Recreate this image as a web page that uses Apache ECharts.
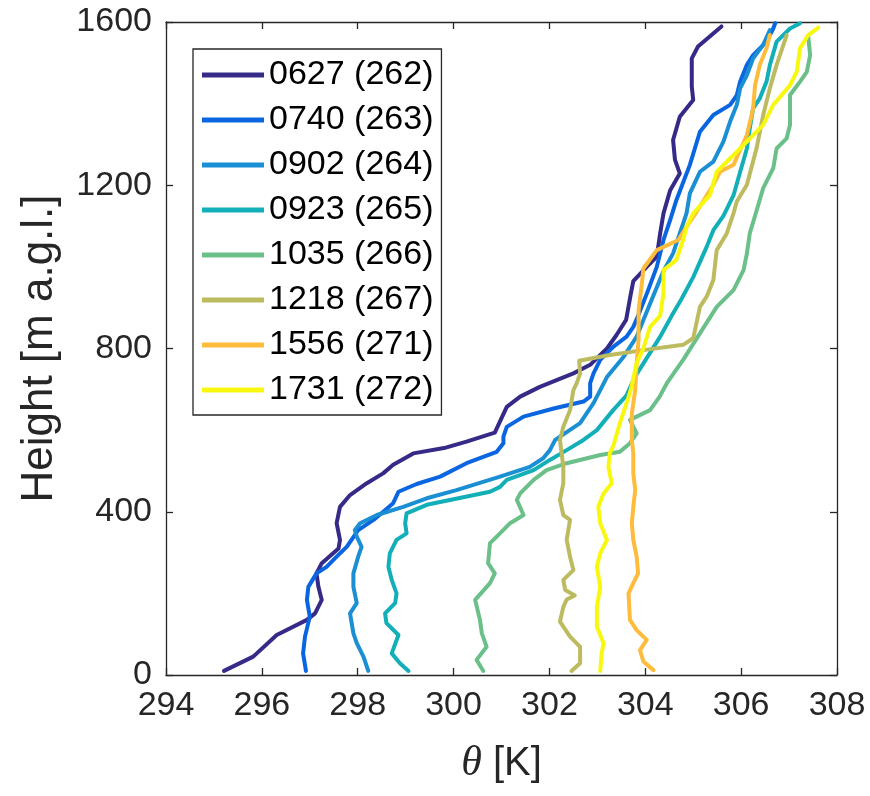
<!DOCTYPE html>
<html>
<head>
<meta charset="utf-8">
<script src="https://cdn.jsdelivr.net/npm/echarts@6/dist/echarts.min.js"></script>
<style>
  html, body { margin: 0; padding: 0; background: #fff; }
  #chart-container { width: 870px; height: 796px; }
</style>
</head>
<body>
<div id="chart-container"></div>
<script>
// profile names and line colours
const names = ['0627 (262)', '0740 (263)', '0902 (264)', '0923 (265)', '1035 (266)', '1218 (267)', '1556 (271)', '1731 (272)'];
const colors = ['#352a87', '#0a66e0', '#1a8fd3', '#12afb9', '#6bbf88', '#bdbb5f', '#fdbc3c', '#f8f80f'];

const xTicks = [294, 308, 2];
const yTicks = [0, 1600, 400];

// [theta K, height m]
const p0627 = [[295.21,10],[295.82,45],[296.31,98],[296.94,135],[297.11,151],[297.25,184],[297.18,216],[297.14,249],[297.25,274],[297.60,310],[297.63,331],[297.56,372],[297.63,412],[297.84,441],[298.19,470],[298.53,494],[298.74,515],[299.16,543],[299.8,556],[300.27,572],[300.86,594],[301.11,657],[301.39,682],[301.80,706],[302.50,739],[302.85,760],[303.20,800],[303.40,833],[303.60,870],[303.70,935],[303.75,965],[304.03,1000],[304.24,1025],[304.31,1082],[304.38,1131],[304.52,1188],[304.72,1229],[304.62,1262],[304.58,1311],[304.72,1368],[305.0,1409],[304.97,1442],[304.97,1511],[305.10,1540],[305.59,1589]];
const p0740 = [[296.92,10],[296.86,53],[296.90,94],[297.0,143],[296.94,184],[296.97,216],[297.14,249],[297.35,265],[297.56,290],[297.77,314],[298.01,355],[298.33,380],[298.74,421],[298.85,449],[299.23,468],[299.72,486],[300.27,519],[300.90,547],[301.04,568],[301.04,584],[301.11,608],[301.46,633],[302.09,653],[302.71,670],[302.85,682],[302.85,715],[302.92,739],[303.06,772],[303.33,804],[303.61,829],[303.75,853],[303.85,880],[304.05,940],[304.24,1000],[304.38,1066],[304.52,1115],[304.65,1164],[304.93,1250],[305.14,1331],[305.42,1372],[305.77,1397],[305.91,1421],[305.98,1454],[306.12,1495],[306.25,1519],[306.53,1552],[306.67,1584],[306.71,1597]];
const p0902 = [[298.22,10],[298.12,45],[297.98,78],[297.91,102],[297.84,151],[297.98,176],[297.91,216],[297.91,249],[298.01,290],[298.08,314],[297.98,339],[297.94,355],[298.05,372],[298.40,392],[298.95,412],[299.44,433],[300.06,453],[300.97,486],[301.59,510],[301.87,531],[302.01,551],[302.12,576],[302.64,617],[302.92,666],[303.20,730],[303.55,780],[303.82,829],[303.96,870],[304.17,930],[304.38,990],[304.58,1033],[304.72,1082],[304.86,1131],[304.93,1180],[305.14,1233],[305.42,1258],[305.63,1307],[305.77,1356],[305.91,1397],[305.98,1438],[306.12,1470],[306.25,1511],[306.46,1544],[306.6,1580]];
const p0923 = [[299.06,10],[298.88,29],[298.71,53],[298.85,98],[298.60,127],[298.57,151],[298.78,176],[298.81,200],[298.71,233],[298.64,265],[298.67,298],[298.81,331],[299.02,347],[298.99,372],[299.02,396],[299.44,417],[300.76,449],[300.97,461],[301.11,478],[301.67,502],[302.01,527],[302.36,551],[302.71,576],[302.99,600],[303.33,649],[303.61,685],[303.78,730],[304.05,780],[304.31,829],[304.55,880],[304.75,920],[305.0,975],[305.28,1049],[305.42,1090],[305.63,1125],[305.84,1175],[305.98,1233],[306.12,1290],[306.18,1339],[306.25,1388],[306.39,1413],[306.53,1454],[306.60,1495],[306.74,1552],[307.02,1584],[307.23,1597]];
const p1035 = [[300.62,10],[300.48,37],[300.69,69],[300.59,102],[300.55,135],[300.45,184],[300.76,225],[300.86,249],[300.72,274],[300.76,323],[300.90,339],[301.18,372],[301.46,392],[301.32,429],[301.39,445],[301.67,478],[301.94,502],[302.36,519],[303.06,539],[303.47,547],[303.68,568],[303.82,592],[303.68,625],[304.10,649],[304.30,682],[304.45,715],[304.79,772],[305.14,837],[305.49,902],[305.84,943],[306.05,992],[306.12,1033],[306.18,1082],[306.32,1137],[306.46,1193],[306.67,1242],[306.74,1290],[306.95,1315],[307.02,1348],[307.02,1421],[307.23,1454],[307.37,1478],[307.44,1519],[307.40,1564]];
const p1218 = [[302.46,10],[302.64,29],[302.64,69],[302.43,94],[302.22,131],[302.29,167],[302.36,185],[302.53,195],[302.33,208],[302.29,233],[302.50,257],[302.43,290],[302.36,331],[302.43,380],[302.29,392],[302.22,429],[302.29,470],[302.29,510],[302.22,576],[302.29,608],[302.43,649],[302.50,698],[302.57,715],[302.64,739],[302.62,770],[303.26,784],[303.96,796],[304.79,809],[305.0,825],[305.14,902],[305.28,927],[305.42,968],[305.49,1041],[305.70,1082],[305.84,1131],[305.91,1160],[306.12,1201],[306.32,1290],[306.46,1372],[306.60,1438],[306.74,1495],[306.95,1568]];
const p1556 = [[304.17,12],[303.96,33],[303.89,61],[304.03,86],[303.82,110],[303.68,135],[303.65,200],[303.75,225],[303.85,249],[303.82,290],[303.75,331],[303.72,372],[303.75,412],[303.79,453],[303.75,494],[303.75,543],[303.72,576],[303.72,641],[303.79,698],[303.82,764],[303.86,821],[303.86,894],[303.93,960],[303.96,996],[304.24,1041],[304.69,1066],[304.86,1098],[305.07,1135],[305.42,1201],[305.56,1233],[305.84,1250],[306.12,1323],[306.25,1388],[306.29,1445],[306.39,1495],[306.53,1536],[306.60,1568]];
const p1731 = [[303.06,10],[303.09,53],[303.13,78],[302.99,118],[302.99,167],[303.06,216],[302.99,265],[303.06,298],[303.20,331],[303.06,372],[303.02,412],[303.13,445],[303.30,470],[303.23,510],[303.26,543],[303.33,560],[303.47,617],[303.61,666],[303.70,700],[303.82,764],[303.96,800],[304.10,853],[304.31,880],[304.38,935],[304.38,992],[304.65,1017],[304.79,1066],[304.86,1098],[305.0,1131],[305.35,1176],[305.49,1233],[305.98,1290],[306.46,1348],[306.67,1397],[307.02,1445],[307.16,1478],[307.23,1536],[307.40,1568],[307.61,1586]];

const profiles = [p0627, p0740, p0902, p0923, p1035, p1218, p1556, p1731];

var chartDom = document.getElementById('chart-container');
var myChart = echarts.init(chartDom);
var option;

const axisColor = '#262626';
const font = 'Liberation Sans, Arial, sans-serif';

function boxAxis(pos, ticks, extra) {
    return Object.assign({
        type: 'value',
        position: pos,
        min: ticks[0],
        max: ticks[1],
        interval: ticks[2],
        axisLine: { show: true, onZero: false, lineStyle: { color: axisColor, width: 1.3 } },
        axisTick: { show: true, inside: true, length: 7, lineStyle: { color: axisColor, width: 1.3 } },
        axisLabel: { show: false },
        splitLine: { show: false }
    }, extra);
}

option = {
    animation: false,
    color: colors,
    grid: {
        left: 166,
        right: 33,
        top: 22,
        bottom: 121
    },
    legend: {
        orient: 'vertical',
        left: 193,
        top: 49,
        width: 250,
        padding: [6, 8, 5, 9],
        itemGap: 5,
        itemWidth: 62,
        itemHeight: 5,
        icon: 'rect',
        backgroundColor: '#fff',
        borderColor: axisColor,
        borderWidth: 1.3,
        borderRadius: 0,
        textStyle: {
            fontFamily: font,
            fontSize: 34,
            lineHeight: 40,
            color: '#000'
        },
        data: names
    },
    xAxis: [
        boxAxis('bottom', xTicks, {
            axisLabel: { show: true, fontFamily: font, fontSize: 34, color: axisColor, margin: 14 },
            name: '{i|θ} [K]',
            nameLocation: 'middle',
            nameGap: 68,
            nameTextStyle: {
                fontFamily: font,
                fontSize: 40,
                color: axisColor,
                rich: {
                    i: { fontFamily: 'Liberation Serif, serif', fontStyle: 'italic', fontSize: 42, color: axisColor }
                }
            }
        }),
        boxAxis('top', xTicks, {})
    ],
    yAxis: [
        boxAxis('left', yTicks, {
            axisLabel: { show: true, fontFamily: font, fontSize: 34, color: axisColor, margin: 14, formatter: v => String(v) },
            name: 'Height [m a.g.l.]',
            nameLocation: 'middle',
            nameGap: 104,
            nameTextStyle: { fontFamily: font, fontSize: 44, color: axisColor }
        }),
        boxAxis('right', yTicks, {})
    ],
    series: names.map((n, i) => ({
        name: n,
        type: 'line',
        data: profiles[i],
        showSymbol: false,
        symbol: 'none',
        smooth: false,
        lineStyle: { width: 4, color: colors[i], join: 'round', cap: 'round' },
        itemStyle: { color: colors[i] }
    }))
};

option && myChart.setOption(option);
</script>
</body>
</html>
